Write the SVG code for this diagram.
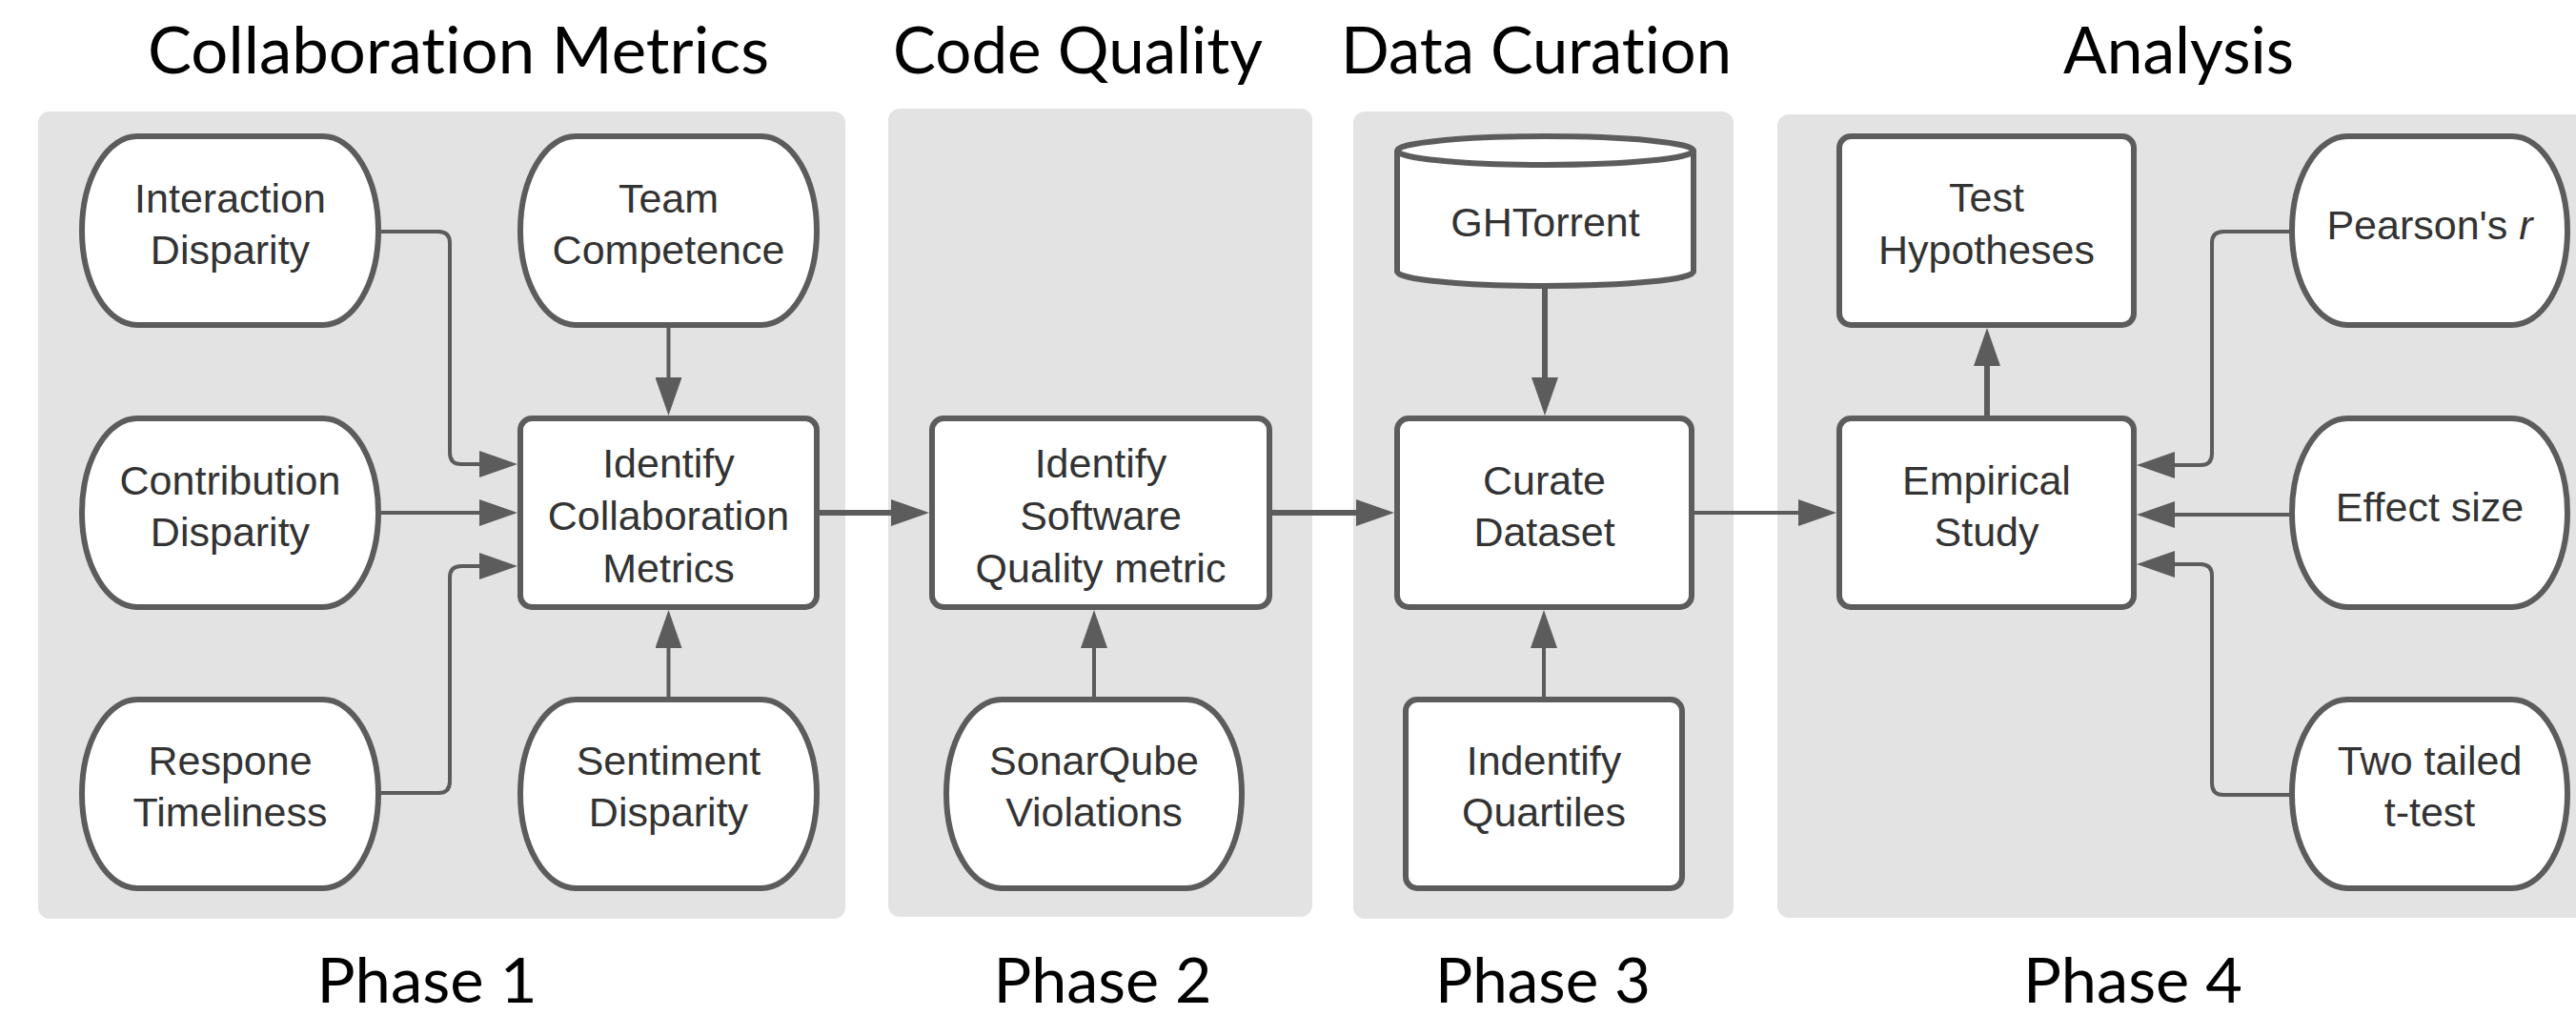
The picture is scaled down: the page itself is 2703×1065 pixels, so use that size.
<svg xmlns="http://www.w3.org/2000/svg" width="2703" height="1065" viewBox="0 0 2703 1065">
  <style>
    .panel { fill: #e3e3e3; }
    .node { fill: #ffffff; stroke: #5c5c5c; stroke-width: 6; }
    .label { font-family: "Liberation Sans", Arial, sans-serif; font-size: 43px; fill: #333333; text-anchor: middle; }
    .heading { font-family: Lato, "Open Sans", sans-serif; font-size: 68px; fill: #000000; text-anchor: middle; font-variant-ligatures: none; }
    .phase { font-family: Lato, "Open Sans", sans-serif; font-size: 66px; fill: #000000; text-anchor: middle; font-variant-ligatures: none; }
    .edge { fill: none; stroke: #5c5c5c; stroke-width: 4; }
    .edge.heavy { stroke-width: 6; }
  </style>
  <defs>
    <marker id="arrow" markerUnits="userSpaceOnUse" viewBox="0 0 40 28" markerWidth="40" markerHeight="28" refX="4" refY="14" orient="auto">
      <path d="M0,0 L40,14 L0,28 Z" fill="#5c5c5c"/>
    </marker>
  </defs>

  <rect width="2703" height="1065" fill="#ffffff"/>

  <!-- section headings -->
  <g id="headings">
    <text class="heading" x="481" y="77" textLength="652" lengthAdjust="spacingAndGlyphs">Collaboration Metrics</text>
    <text class="heading" x="1131" y="77" textLength="388" lengthAdjust="spacingAndGlyphs">Code Quality</text>
    <text class="heading" x="1612" y="77" textLength="410" lengthAdjust="spacingAndGlyphs">Data Curation</text>
    <text class="heading" x="2286" y="77" textLength="242" lengthAdjust="spacingAndGlyphs">Analysis</text>
  </g>

  <!-- phase backgrounds -->
  <g id="panels">
    <rect class="panel" x="40" y="117" width="847" height="847" rx="12"/>
    <rect class="panel" x="932" y="114" width="445" height="848" rx="12"/>
    <rect class="panel" x="1420" y="117" width="399" height="847" rx="12"/>
    <rect class="panel" x="1865" y="120" width="900" height="843" rx="12"/>
  </g>

  <!-- phase captions -->
  <g id="phases">
    <text class="phase" x="448" y="1052" textLength="231" lengthAdjust="spacingAndGlyphs">Phase 1</text>
    <text class="phase" x="1157" y="1052" textLength="229" lengthAdjust="spacingAndGlyphs">Phase 2</text>
    <text class="phase" x="1619" y="1052" textLength="226" lengthAdjust="spacingAndGlyphs">Phase 3</text>
    <text class="phase" x="2238" y="1052" textLength="230" lengthAdjust="spacingAndGlyphs">Phase 4</text>
  </g>

  <!-- connectors -->
  <g id="connectors">
    <path class="edge" d="M400 243 H460 Q472 243 472 255 V475 Q472 487 484 487 H507" marker-end="url(#arrow)"/>
    <path class="edge" d="M400 538 H507" marker-end="url(#arrow)"/>
    <path class="edge" d="M400 832 H460 Q472 832 472 820 V606 Q472 594 484 594 H507" marker-end="url(#arrow)"/>
    <path class="edge" d="M701.5 344 V400" marker-end="url(#arrow)"/>
    <path class="edge" d="M701.5 731 V676" marker-end="url(#arrow)"/>
    <path class="edge heavy" d="M860 538 H939" marker-end="url(#arrow)"/>
    <path class="edge" d="M1148 731 V676" marker-end="url(#arrow)"/>
    <path class="edge heavy" d="M1335 538 H1427" marker-end="url(#arrow)"/>
    <path class="edge heavy" d="M1621 302 V400" marker-end="url(#arrow)"/>
    <path class="edge" d="M1620 731 V676" marker-end="url(#arrow)"/>
    <path class="edge" d="M1778 538 H1891" marker-end="url(#arrow)"/>
    <path class="edge heavy" d="M2085 436 V380" marker-end="url(#arrow)"/>
    <path class="edge" d="M2402 243 H2333 Q2321 243 2321 255 V476 Q2321 488 2309 488 H2278" marker-end="url(#arrow)"/>
    <path class="edge" d="M2402 540 H2278" marker-end="url(#arrow)"/>
    <path class="edge" d="M2402 834 H2333 Q2321 834 2321 822 V604 Q2321 592 2309 592 H2278" marker-end="url(#arrow)"/>
  </g>

  <!-- Phase 1 nodes -->
  <g id="interaction-disparity">
    <path class="node" d="M144 143 H339 A58 99 0 0 1 339 341 H144 A58 99 0 0 1 144 143 Z"/>
    <text class="label" x="241.5" y="223">Interaction</text>
    <text class="label" x="241.5" y="277">Disparity</text>
  </g>
  <g id="team-competence">
    <path class="node" d="M604 143 H799 A58 99 0 0 1 799 341 H604 A58 99 0 0 1 604 143 Z"/>
    <text class="label" x="701.5" y="223">Team</text>
    <text class="label" x="701.5" y="277">Competence</text>
  </g>
  <g id="contribution-disparity">
    <path class="node" d="M144 439 H339 A58 99 0 0 1 339 637 H144 A58 99 0 0 1 144 439 Z"/>
    <text class="label" x="241.5" y="519">Contribution</text>
    <text class="label" x="241.5" y="573">Disparity</text>
  </g>
  <g id="identify-collaboration-metrics">
    <rect class="node" x="546" y="439" width="311" height="198" rx="12"/>
    <text class="label" x="701.5" y="501">Identify</text>
    <text class="label" x="701.5" y="556">Collaboration</text>
    <text class="label" x="701.5" y="611">Metrics</text>
  </g>
  <g id="respone-timeliness">
    <path class="node" d="M144 734 H339 A58 99 0 0 1 339 932 H144 A58 99 0 0 1 144 734 Z"/>
    <text class="label" x="241.5" y="813">Respone</text>
    <text class="label" x="241.5" y="867">Timeliness</text>
  </g>
  <g id="sentiment-disparity">
    <path class="node" d="M604 734 H799 A58 99 0 0 1 799 932 H604 A58 99 0 0 1 604 734 Z"/>
    <text class="label" x="701.5" y="813">Sentiment</text>
    <text class="label" x="701.5" y="867">Disparity</text>
  </g>

  <!-- Phase 2 nodes -->
  <g id="identify-software-quality">
    <rect class="node" x="978" y="439" width="354" height="198" rx="12"/>
    <text class="label" x="1155" y="501">Identify</text>
    <text class="label" x="1155" y="556">Software</text>
    <text class="label" x="1155" y="611">Quality metric</text>
  </g>
  <g id="sonarqube-violations">
    <path class="node" d="M1051 734 H1245 A58 99 0 0 1 1245 932 H1051 A58 99 0 0 1 1051 734 Z"/>
    <text class="label" x="1148" y="813">SonarQube</text>
    <text class="label" x="1148" y="867">Violations</text>
  </g>

  <!-- Phase 3 nodes -->
  <g id="ghtorrent">
    <path class="node" d="M1466 158 V285 A155.5 15 0 0 0 1777 285 V158"/>
    <ellipse class="node" cx="1621.5" cy="158" rx="155.5" ry="15"/>
    <text class="label" x="1621.5" y="248">GHTorrent</text>
  </g>
  <g id="curate-dataset">
    <rect class="node" x="1466" y="439" width="309" height="198" rx="12"/>
    <text class="label" x="1620.5" y="519">Curate</text>
    <text class="label" x="1620.5" y="573">Dataset</text>
  </g>
  <g id="identify-quartiles">
    <rect class="node" x="1475" y="734" width="290" height="198" rx="12"/>
    <text class="label" x="1620" y="813">Indentify</text>
    <text class="label" x="1620" y="867">Quartiles</text>
  </g>

  <!-- Phase 4 nodes -->
  <g id="test-hypotheses">
    <rect class="node" x="1930" y="143" width="309" height="198" rx="12"/>
    <text class="label" x="2084.5" y="222">Test</text>
    <text class="label" x="2084.5" y="277">Hypotheses</text>
  </g>
  <g id="empirical-study">
    <rect class="node" x="1930" y="439" width="309" height="198" rx="12"/>
    <text class="label" x="2084.5" y="519">Empirical</text>
    <text class="label" x="2084.5" y="573">Study</text>
  </g>
  <g id="pearsons-r">
    <path class="node" d="M2463 143 H2636 A58 99 0 0 1 2636 341 H2463 A58 99 0 0 1 2463 143 Z"/>
    <text class="label" x="2549.5" y="251">Pearson's <tspan font-style="italic">r</tspan></text>
  </g>
  <g id="effect-size">
    <path class="node" d="M2463 439 H2636 A58 99 0 0 1 2636 637 H2463 A58 99 0 0 1 2463 439 Z"/>
    <text class="label" x="2549.5" y="547">Effect size</text>
  </g>
  <g id="two-tailed-t-test">
    <path class="node" d="M2463 734 H2636 A58 99 0 0 1 2636 932 H2463 A58 99 0 0 1 2463 734 Z"/>
    <text class="label" x="2549.5" y="813">Two tailed</text>
    <text class="label" x="2549.5" y="867">t-test</text>
  </g>
</svg>
